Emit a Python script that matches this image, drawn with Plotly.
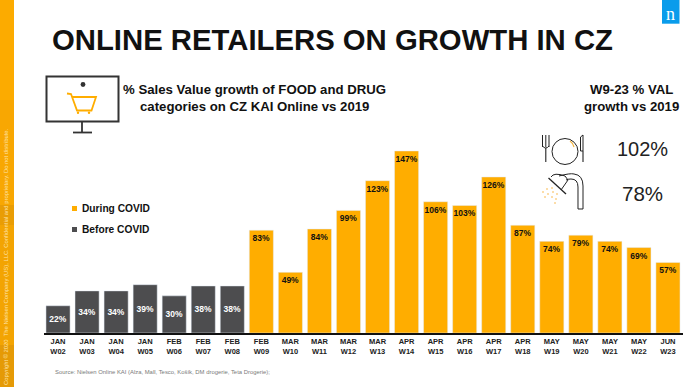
import plotly.graph_objects as go

W, H = 700, 387
FONT = "Liberation Sans"
ORANGE = "#FFAD00"
GREY = "#4D4D4F"
INK = "#222222"

weeks = ["W02","W03","W04","W05","W06","W07","W08","W09","W10","W11","W12","W13",
         "W14","W15","W16","W17","W18","W19","W20","W21","W22","W23"]
tick_months = ["JAN","JAN","JAN","JAN","FEB","FEB","FEB","FEB","MAR","MAR","MAR","MAR",
               "APR","APR","APR","APR","APR","MAY","MAY","MAY","MAY","JUN"]
before_weeks = weeks[:7]
before_values = [22, 34, 34, 39, 30, 38, 38]
during_weeks = weeks[7:]
during_values = [83, 49, 84, 99, 123, 147, 106, 103, 126, 87, 74, 79, 74, 69, 57]
tick_labels = [f"{m}<br>{w}" for m, w in zip(tick_months, weeks)]


def X(p):
    return p / W


def Y(p):
    return 1 - p / H


def path(points, close=False):
    s = "M" + " L".join(f"{X(a):.5f},{Y(b):.5f}" for a, b in points)
    return s + (" Z" if close else "")


def curve(d):
    out = []
    for t in d:
        vals = []
        for i in range(1, len(t), 2):
            vals.append(f"{X(t[i]):.5f},{Y(t[i+1]):.5f}")
        out.append(t[0] + " ".join(vals))
    return " ".join(out)


shapes = []


def rect(x0, y0, x1, y1, fill=None, line=None, lw=0):
    shapes.append(dict(type="rect", xref="paper", yref="paper", x0=X(x0), x1=X(x1), y0=Y(y0), y1=Y(y1),
                       fillcolor=fill or "rgba(0,0,0,0)",
                       line=dict(color=line or "rgba(0,0,0,0)", width=lw), layer="above"))


def circle(cx, cy, r, fill=None, line=None, lw=0):
    shapes.append(dict(type="circle", xref="paper", yref="paper", x0=X(cx - r), x1=X(cx + r), y0=Y(cy - r), y1=Y(cy + r),
                       fillcolor=fill or "rgba(0,0,0,0)",
                       line=dict(color=line or "rgba(0,0,0,0)", width=lw), layer="above"))


def stroke(d, color=INK, lw=1.3):
    shapes.append(dict(type="path", xref="paper", yref="paper", path=d,
                       line=dict(color=color, width=lw), layer="above"))


# Left band
rect(0, 0, 14, 100, "#FCAB00")
rect(0, 100, 14, 205, "#F8A702")
rect(0, 205, 14, 225, "#E99D04")
rect(0, 225, 14, 345, "#F3A402")
rect(0, 345, 14, 387, "#E59A06")

# Logo
rect(662, 0, 679.5, 23.7, "#0A9CEB")

# Monitor icon
rect(46.5, 76.5, 118.5, 121.5, None, "#333333", 2)
stroke(path([(82, 122), (82, 132.5)]), "#333333", 1.8)
stroke(path([(73, 132.5), (92, 132.5)]), "#333333", 1.8)
circle(83, 84.5, 2.4, "#333333")
stroke(path([(67, 93.5), (71, 94), (77, 110.5), (91.5, 110.5), (96, 97), (72, 97)]), ORANGE, 1.8)
circle(78, 112.8, 1.2, ORANGE)
circle(89, 112.8, 1.2, ORANGE)

# Plate icon
circle(565, 151.5, 13, None, INK, 1)
stroke(curve([("M", 570, 141), ("Q", 573, 143, 574, 147)]), "#F2B33D", 1.2)
for fx in (542.5, 545.8, 549):
    stroke(path([(fx, 135), (fx, 147)]), INK, 1)
stroke(curve([("M", 542.5, 146), ("Q", 545.8, 150, 549, 146)]), INK, 1)
stroke(path([(545.8, 148), (545.8, 162)]), INK, 1.1)
stroke(path([(583, 135), (580.5, 137), (580.5, 151), (583, 151), (583, 135)]), INK, 1)
stroke(path([(583, 151), (583, 162)]), INK, 1.1)

# Shower icon
stroke(path([(548.5, 178), (566, 194)]), INK, 1.3)
stroke(curve([("M", 551, 177), ("Q", 554, 172, 565, 176), ("L", 568, 180), ("L", 561, 190)]), INK, 1)
stroke(curve([("M", 559, 176), ("Q", 570, 173, 574, 174), ("Q", 583, 175, 583, 186),
              ("L", 583, 209), ("L", 578, 209), ("L", 578, 187), ("Q", 578, 179, 571, 179),
              ("Q", 568, 179, 566, 180)]), INK, 1)
for dx, dy in [(543, 192), (547, 189), (552, 188), (548, 194), (553, 192), (557, 194),
               (552, 197), (556, 199), (555, 203), (545, 197)]:
    circle(dx, dy, 0.8, "#F7B23B")

# Legend swatches
rect(72, 206, 77, 211, ORANGE)
rect(72, 227, 77, 232, GREY)

annotations = []


def text(x, y, s, size, color=INK, bold=False, anchor="center", family=FONT, angle=0):
    annotations.append(dict(xref="paper", yref="paper", x=X(x), y=Y(y), text=f"<b>{s}</b>" if bold else s,
                            showarrow=False, xanchor=anchor, yanchor="middle", align="center", textangle=angle,
                            font=dict(family=family, size=size, color=color)))


text(50, 39.5, "ONLINE RETAILERS ON GROWTH IN CZ", 29.3, "#111111", True, "left")
text(254, 90, "% Sales Value growth of FOOD and DRUG", 13.2, "#111111", True)
text(254, 107, "categories on CZ KAI Online vs 2019", 13.2, "#111111", True)
text(631, 90, "W9-23 % VAL", 13.2, "#111111", True)
text(631, 107, "growth vs 2019", 13.2, "#111111", True)
text(642.5, 149, "102%", 20, INK)
text(642, 193, "78%", 20.5, INK)
text(53, 372, "Source: Nielsen Online KAI (Alza, Mall, Tesco, Košík, DM drogerie, Teta Drogerie);", 5.9, "#7A7A7A", False, "left")
text(670.5, 14, "n", 18, "#FFFFFF", False, "center", "Liberation Serif")
text(6, 257, "Copyright © 2020  The Nielsen Company (US), LLC. Confidential and proprietary. Do not distribute.",
     5.85, "#FFE3A8", False, "center", FONT, -90)
text(80, 208, "During COVID", 10.2, "#111111", True, "left")
text(80, 229.5, "Before COVID", 10.2, "#111111", True, "left")

fig = go.Figure()
fig.add_bar(name="During COVID", x=during_weeks, y=during_values, marker_color=ORANGE,
            text=[f"{v}%" for v in during_values], textposition="inside", insidetextanchor="end",
            textfont=dict(family=FONT, size=8.5, color="#111111", weight="bold"), textangle=0, constraintext="none")
fig.add_bar(name="Before COVID", x=before_weeks, y=before_values, marker_color=GREY,
            text=[f"{v}%" for v in before_values], textposition="inside", insidetextanchor="middle",
            textfont=dict(family=FONT, size=8.5, color="#FFFFFF", weight="bold"), textangle=0, constraintext="none")

fig.update_layout(
    width=W, height=H, margin=dict(l=0, r=0, t=0, b=0), autosize=False,
    paper_bgcolor="#FFFFFF", plot_bgcolor="#FFFFFF",
    barmode="overlay", bargap=0.17, showlegend=False,
    font=dict(family=FONT),
    shapes=shapes, annotations=annotations,
    xaxis=dict(domain=[X(43.5), X(682.5)], type="category", categoryorder="array", categoryarray=weeks,
               tickmode="array", tickvals=weeks, ticktext=tick_labels, ticks="", showgrid=False,
               showline=True, linecolor="#111111", linewidth=1.5, zeroline=False, tickangle=0,
               tickfont=dict(family=FONT, size=7.5, color="#222222", weight="bold")),
    yaxis=dict(domain=[Y(333), Y(133)], range=[0, 161.5], visible=False, fixedrange=True),
)

fig.write_html("out.html", config={"displayModeBar": False},
               post_script="document.body.style.margin='0';document.documentElement.style.overflow='hidden';")
